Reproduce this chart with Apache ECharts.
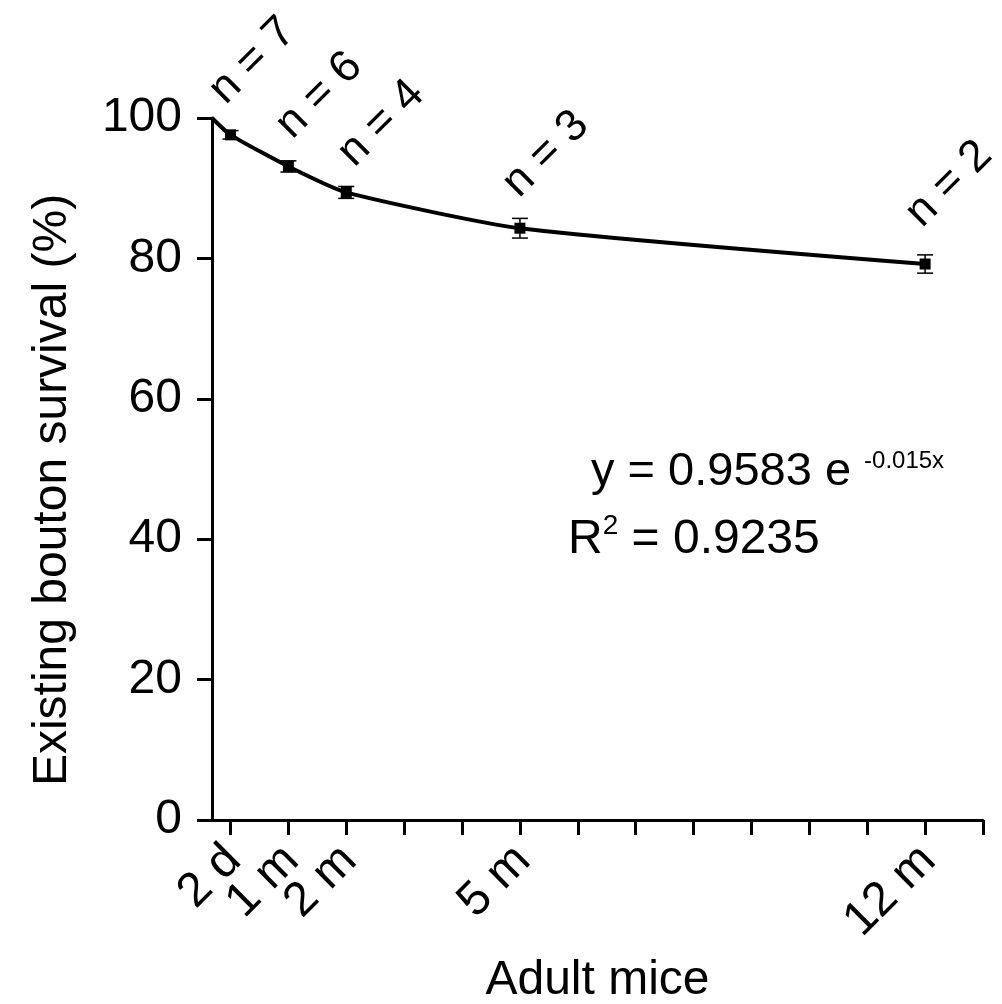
<!DOCTYPE html>
<html>
<head>
<meta charset="utf-8">
<script src="https://cdn.jsdelivr.net/npm/echarts@6/dist/echarts.min.js"></script>
<style>
html,body{margin:0;padding:0;background:#fff;}
#chart{width:1002px;height:1004px;}
</style>
</head>
<body>
<div id="chart"></div>
<script>
// ---- data ----
const timeMonths = [0, 1, 2, 5, 12];               // x position (months) of each imaging interval
const timeLabels = ['2 d', '1 m', '2 m', '5 m', '12 m'];
const survival = [97.6, 93.1, 89.4, 84.3, 79.2];   // existing bouton survival (%)
const sem = [0.6, 0.8, 0.85, 1.4, 1.3];            // error bar half-lengths (%)
const nLabels = ['n = 7', 'n = 6', 'n = 4', 'n = 3', 'n = 2'];
const startTime = -0.32;                            // origin of the curve (100 %)
const startSurvival = 100;
const xTickValues = [0,1,2,3,4,5,6,7,8,9,10,11,12,13];
const yTicks = [0, 20, 40, 60, 80, 100];
const equationText = 'y = 0.9583 e ';
const equationExp = '-0.015x';
const r2Value = '0.9235';

// ---- rendering ----
const FONT = '"Liberation Sans", Arial, Helvetica, sans-serif';
const labelOffsets = [[22,-74],[31,-71],[35,-69],[26,-74],[24,-80]];

const lineData = [[startTime, startSurvival]].concat(timeMonths.map((t,i)=>[t, survival[i]]));
const errData = timeMonths.map((t,i)=>[t, survival[i], sem[i], i]);
const xLabelData = timeMonths.map((t,i)=>[t, 0, i]);

const chart = echarts.init(document.getElementById('chart'), null, {renderer:'canvas'});
chart.setOption({
  animation:false,
  backgroundColor:'#fff',
  textStyle:{fontFamily:FONT, color:'#000'},
  grid:{left:212, right:19, top:118, bottom:184, containLabel:false, outerBoundsMode:'none'},
  xAxis:{
    type:'value', min:startTime, max:13,
    name:'Adult mice', nameLocation:'middle', nameGap:137,
    nameTextStyle:{fontSize:48, color:'#000', fontFamily:FONT},
    axisLine:{show:true, onZero:false, lineStyle:{color:'#000', width:3}},
    axisTick:{show:true, customValues:xTickValues, length:15, inside:false, lineStyle:{color:'#000', width:3}},
    axisLabel:{show:false},
    splitLine:{show:false}
  },
  yAxis:{
    type:'value', min:0, max:100, interval:20,
    name:'Existing bouton survival (%)', nameLocation:'middle', nameGap:135,
    nameTextStyle:{fontSize:48, color:'#000', fontFamily:FONT, padding:[0,42,0,0]},
    axisLine:{show:true, onZero:false, lineStyle:{color:'#000', width:3}},
    axisTick:{show:true, length:15, lineStyle:{color:'#000', width:3}},
    axisLabel:{fontSize:48, color:'#000', margin:30, fontFamily:FONT, showMinLabel:true, hideOverlap:false},
    splitLine:{show:false}
  },
  series:[
    {
      type:'line', data:lineData, smooth:0.2,
      lineStyle:{color:'#000', width:4},
      symbol:function(v){ return v[0]===startTime ? 'none' : 'rect'; },
      symbolSize:11, itemStyle:{color:'#000'}, z:3
    },
    {
      type:'custom', data:errData, z:4,
      renderItem:function(params, api){
        const x = api.value(0), y = api.value(1), e = api.value(2), idx = api.value(3);
        const top = api.coord([x, y+e]);
        const bot = api.coord([x, y-e]);
        const mid = api.coord([x, y]);
        const cw = 8;
        const style = {stroke:'#000', lineWidth:1.5};
        const off = labelOffsets[idx];
        return {type:'group', children:[
          {type:'line', shape:{x1:top[0], y1:top[1], x2:bot[0], y2:bot[1]}, style:style},
          {type:'line', shape:{x1:top[0]-cw, y1:top[1], x2:top[0]+cw, y2:top[1]}, style:style},
          {type:'line', shape:{x1:bot[0]-cw, y1:bot[1], x2:bot[0]+cw, y2:bot[1]}, style:style},
          {type:'text', x:mid[0]+off[0], y:mid[1]+off[1], rotation:Math.PI/4,
            style:{text:nLabels[idx], fontSize:45, fontFamily:FONT, fill:'#000', align:'center', verticalAlign:'middle'}}
        ]};
      }
    },
    {
      // x-axis category labels (rotated 45°), placed at the axis positions
      type:'custom', data:xLabelData, z:5, clip:false,
      renderItem:function(params, api){
        const p = api.coord([api.value(0), api.value(1)]);
        return {type:'text', x:p[0]+3, y:p[1]+33, rotation:Math.PI/4,
          style:{text:timeLabels[api.value(2)], fontSize:48, fontFamily:FONT, fill:'#000', align:'right', verticalAlign:'middle'}};
      }
    }
  ],
  graphic:[
    {type:'text', x:591, y:472,
      style:{text:'{b|'+equationText+'}{s|'+equationExp+'}', fill:'#000', verticalAlign:'middle',
        rich:{b:{fontSize:47, fontFamily:FONT, fill:'#000', lineHeight:56},
              s:{fontSize:24, fontFamily:FONT, fill:'#000', verticalAlign:'top', lineHeight:56, padding:[5,0,0,0]}}}},
    {type:'text', x:568, y:540,
      style:{text:'{b|R}{s|2}{b| = '+r2Value+'}', fill:'#000', verticalAlign:'middle',
        rich:{b:{fontSize:48, fontFamily:FONT, fill:'#000', lineHeight:56},
              s:{fontSize:28, fontFamily:FONT, fill:'#000', verticalAlign:'top', lineHeight:56}}}}
  ]
});
</script>
</body>
</html>
